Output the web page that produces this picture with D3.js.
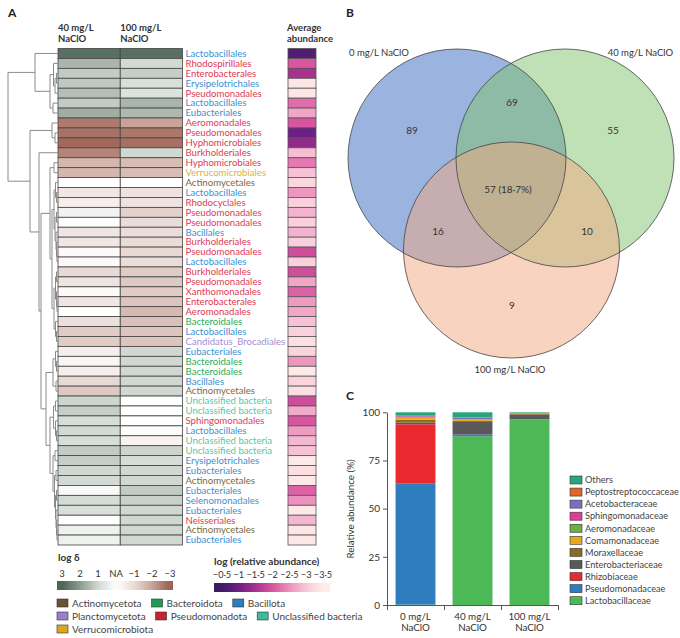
<!DOCTYPE html>
<html><head><meta charset="utf-8">
<script src="https://cdn.jsdelivr.net/npm/d3@7"></script>
<style>
body{margin:0;background:#fff;}
svg{display:block;font-family:Lato,"Open Sans",sans-serif;}
</style></head><body>
<svg id="chart" width="680" height="638"></svg>
<script>
// ---------------- DATA ----------------
const orders = ["Lactobacillales","Rhodospirillales","Enterobacterales","Erysipelotrichales","Pseudomonadales","Lactobacillales","Eubacteriales","Aeromonadales","Pseudomonadales","Hyphomicrobiales","Burkholderiales","Hyphomicrobiales","Verrucomicrobiales","Actinomycetales","Lactobacillales","Rhodocyclales","Pseudomonadales","Pseudomonadales","Bacillales","Burkholderiales","Pseudomonadales","Lactobacillales","Burkholderiales","Pseudomonadales","Xanthomonadales","Enterobacterales","Aeromonadales","Bacteroidales","Lactobacillales","Candidatus_Brocadiales","Eubacteriales","Bacteroidales","Bacteroidales","Bacillales","Actinomycetales","Unclassified bacteria","Unclassified bacteria","Sphingomonadales","Lactobacillales","Unclassified bacteria","Unclassified bacteria","Erysipelotrichales","Eubacteriales","Actinomycetales","Eubacteriales","Selenomonadales","Eubacteriales","Neisseriales","Actinomycetales","Eubacteriales"];
const orderPhylum = ["Bacillota","Pseudomonadota","Pseudomonadota","Bacillota","Pseudomonadota","Bacillota","Bacillota","Pseudomonadota","Pseudomonadota","Pseudomonadota","Pseudomonadota","Pseudomonadota","Verrucomicrobiota","Actinomycetota","Bacillota","Pseudomonadota","Pseudomonadota","Pseudomonadota","Bacillota","Pseudomonadota","Pseudomonadota","Bacillota","Pseudomonadota","Pseudomonadota","Pseudomonadota","Pseudomonadota","Pseudomonadota","Bacteroidota","Bacillota","Planctomycetota","Bacillota","Bacteroidota","Bacteroidota","Bacillota","Actinomycetota","Unclassified bacteria","Unclassified bacteria","Pseudomonadota","Bacillota","Unclassified bacteria","Unclassified bacteria","Bacillota","Bacillota","Actinomycetota","Bacillota","Bacillota","Bacillota","Pseudomonadota","Actinomycetota","Bacillota"];
// log delta, 40 mg/L and 100 mg/L NaClO (0 = NA)
const logDelta40 = [2.8,1.55,1.2,1.25,1.4,1.2,1.7,-2.6,-2.7,-2.85,-2.45,-1.65,-1.65,0,-0.7,-0.5,0.3,0.05,-0.75,-0.7,-0.15,-0.15,-1.05,-0.8,-0.15,-0.75,0,-0.9,-1.3,-1.3,-0.5,-0.25,-0.5,-1.05,-1.35,1.05,1.15,0.85,0.95,0.85,1.2,1.15,1.0,0.95,0.15,0.9,0.8,0,0.35,0.35];
const logDelta100 = [2.8,0.95,1.15,0.8,0.75,1.55,1.5,-2.0,-2.65,-2.75,1.0,-1.55,-1.55,0,-0.8,-0.8,-1.2,-1.0,-0.95,-1.0,-1.05,-0.95,-1.3,-1.35,-1.3,-1.4,-1.6,-1.5,-1.4,-1.4,1.0,1.0,1.0,1.0,1.0,0,0,0,-0.1,-0.35,1.05,0.85,1.0,1.0,1.2,1.1,1.0,1.0,1.0,1.0];
const logAbundance = [-0.7,-2.0,-1.5,-3.4,-3.4,-2.2,-2.7,-2.0,-1.0,-1.3,-2.9,-2.3,-2.95,-3.2,-2.55,-3.1,-2.8,-3.1,-2.8,-3.1,-1.9,-3.1,-1.9,-2.7,-2.1,-2.6,-2.7,-2.95,-3.1,-3.3,-3.15,-2.55,-3.45,-3.15,-3.3,-1.9,-2.75,-2.0,-2.6,-2.85,-2.95,-3.45,-3.3,-3.45,-2.1,-2.5,-3.45,-2.85,-3.4,-3.4];
// dendrogram: [merge height, left, right]; leaves are row numbers
const dendrogram = [10,
  [4.6, 1, [1.6, [0.9, 2, [0.6, [0.3, 3, 4], 5]], [1.0, 6, 7]]],
  [5.6, [1.2, 8, [0.6, 9, 10]],
    [3.8, 11,
      [3.4,
        [1.6, [0.8, 12, 13],
          [1.2,
            [0.8, [0.5, 14, [0.3, 15, 16]], [0.6, [0.3, 17, 18], [0.4, 19, [0.3, 20, [0.2, 21, 22]]]]],
            [0.8, [0.5, [0.3, 23, 24], [0.3, 25, [0.2, 26, 27]]], [0.5, 28, [0.3, 29, 30]]]]],
        [2.4,
          [1.0, [0.5, 31, [0.3, 32, 33]], [0.4, 34, 35]],
          [1.6,
            [0.9, [0.5, 36, 37], [0.5, 38, [0.3, 39, 40]]],
            [1.0, [0.6, 41, 42], [0.7, [0.4, 43, 44], [0.5, [0.3, 45, 46], [0.4, 47, [0.3, 48, [0.2, 49, 50]]]]]]]]]]]];
const conditions = ["40 mg/L NaClO","100 mg/L NaClO"];
const phyla = ["Actinomycetota","Bacteroidota","Bacillota","Planctomycetota","Pseudomonadota","Unclassified bacteria","Verrucomicrobiota"];
const deltaTicks = [3,2,1,0,-1,-2,-3];
const abundanceTicks = [-0.5,-1,-1.5,-2,-2.5,-3,-3.5];

const vennSets = ["0 mg/L NaClO","40 mg/L NaClO","100 mg/L NaClO"];
const vennRegions = ["0 only","40 only","100 only","0∩40","0∩100","40∩100","all"];
const vennCounts = [89,55,9,69,16,10,57];
const vennSharedPct = 18.7;

const groups = ["0 mg/L NaClO","40 mg/L NaClO","100 mg/L NaClO"];
const families = ["Lactobacillaceae","Pseudomonadaceae","Rhizobiaceae","Enterobacteriaceae","Moraxellaceae","Comamonadaceae","Aeromonadaceae","Sphingomonadaceae","Acetobacteraceae","Peptostreptococcaceae","Others"];
const abundance0 = [0.2,63.0,30.6,0.8,1.5,1.0,0.3,0.5,0.2,0.4,1.5];
const abundance40 = [87.6,1.0,0.1,6.3,0.5,0.6,0.2,0.1,0.7,0.2,2.7];
const abundance100 = [96.4,0.1,0.0,2.2,0.4,0.1,0.1,0.1,0.2,0.1,0.3];
const percentTicks = [0,25,50,75,100];

// ---------------- STYLE ----------------
const phylumColor = d3.scaleOrdinal().domain(phyla)
  .range(["#6b5330","#219b52","#2b7fc0","#9a80cc","#c8232f","#3dbc9c","#d9a91c"]);
const labelColor = d3.scaleOrdinal().domain(phyla)
  .range(["#7a6a46","#2eaa5c","#3a91cf","#a690d2","#e03a52","#4ecaa8","#e6b22c"]);
const familyColor = d3.scaleOrdinal().domain(families)
  .range(["#4db856","#2f7dbd","#eb2a30","#595959","#8c6a28","#e8a822","#6ab13f","#e43a98","#7b6fbf","#e0652a","#26a57f"]);
const deltaColor = d3.scaleLinear().domain([3,2,1,0,-1,-2,-3])
  .range(["#4d6456","#8b9b8f","#d0d8d1","#ffffff","#eadcd8","#c9a398","#9a5f50"]).clamp(true);
const abundColor = d3.scaleLinear().domain([-0.5,-1,-1.5,-2,-2.5,-3,-3.5])
  .range(["#3d1a68","#6e1f84","#a8318f","#d8559f","#ec90bd","#f8c8d8","#fdeeea"]).clamp(true);
const fmt = v => (v < 0 ? "\u2212" : "") + String(Math.abs(v)).replace(".", "\u00b7");

const svg = d3.select("#chart");
const defs = svg.append("defs");

// ---------------- PANEL A ----------------
svg.append("text").attr("x",8).attr("y",17).attr("font-size",12).attr("font-weight",700).attr("fill","#222").text("A");

const rowY = d3.scaleBand().domain(d3.range(orders.length)).range([48.5,545]);
const colX = d3.scaleBand().domain(conditions).range([58,182.5]);
const abX = [288,316];
const deltaData = [logDelta40, logDelta100];

// headers
const headers = [{x:colX(conditions[0]), l:["40 mg/L","NaClO"]},{x:colX(conditions[1]), l:["100 mg/L","NaClO"]},{x:abX[0]-1,l:["Average","abundance"]}];
headers.forEach(h=>{
  h.l.forEach((t,i)=>svg.append("text").attr("x",h.x).attr("y",31+i*11).attr("font-size",9.5).attr("font-weight",700).attr("fill","#333").text(t));
});

const gA = svg.append("g");
conditions.forEach((c,ci)=>{
  gA.selectAll(null).data(deltaData[ci]).join("rect")
    .attr("x",colX(c)).attr("y",(d,i)=>rowY(i))
    .attr("width",colX.bandwidth()).attr("height",rowY.bandwidth())
    .attr("fill",d=>deltaColor(d)).attr("stroke","#444").attr("stroke-width",0.8);
});
gA.selectAll(null).data(logAbundance).join("rect")
  .attr("x",abX[0]).attr("y",(d,i)=>rowY(i))
  .attr("width",abX[1]-abX[0]).attr("height",rowY.bandwidth())
  .attr("fill",d=>abundColor(d)).attr("stroke","#555").attr("stroke-width",0.8);
gA.selectAll(null).data(orders).join("text")
  .attr("x",185.5).attr("y",(d,i)=>rowY(i)+rowY.bandwidth()/2)
  .attr("dy","0.35em").attr("font-size",9.6)
  .attr("fill",(d,i)=>labelColor(orderPhylum[i])).text(d=>d);

// dendrogram
const xDend = d3.scaleLinear().domain([0,10]).range([58,8]);
const segs = [];
function layoutTree(node){
  if (typeof node === "number") return {x:xDend(0), y:rowY(node-1)+rowY.bandwidth()/2};
  const [h,a,b] = node;
  const A = layoutTree(a), B = layoutTree(b);
  const x = xDend(h);
  segs.push([x,A.y,x,B.y],[x,A.y,A.x,A.y],[x,B.y,B.x,B.y]);
  return {x, y:(A.y+B.y)/2};
}
layoutTree(dendrogram);
svg.append("g").selectAll("line").data(segs).join("line")
  .attr("x1",d=>d[0]).attr("y1",d=>d[1]).attr("x2",d=>d[2]).attr("y2",d=>d[3])
  .attr("stroke","#8a8a8a").attr("stroke-width",1);

// log delta legend
svg.append("text").attr("x",58).attr("y",561).attr("font-size",10).attr("font-weight",700).attr("fill","#333").text("log \u03b4");
const dScale = d3.scaleLinear().domain([3,-3]).range([62,170]);
svg.append("g").selectAll("text").data(deltaTicks).join("text")
  .attr("x",d=>dScale(d)).attr("y",577).attr("text-anchor","middle").attr("font-size",9.5).attr("fill","#333")
  .text(d=>d===0?"NA":fmt(d));
const gD = defs.append("linearGradient").attr("id","gradD");
d3.range(0,1.0001,0.05).forEach(t=>{
  const x = 57 + t*(173-57);
  gD.append("stop").attr("offset",t).attr("stop-color",deltaColor(dScale.invert(x)));
});
svg.append("rect").attr("x",57).attr("y",581).attr("width",116).attr("height",9).attr("fill","url(#gradD)");

// abundance legend
svg.append("text").attr("x",214).attr("y",565).attr("font-size",10).attr("font-weight",700).attr("fill","#333").text("log (relative abundance)");
const aScale = d3.scaleLinear().domain([-0.5,-3.5]).range([222,323]);
svg.append("g").selectAll("text").data(abundanceTicks).join("text")
  .attr("x",d=>aScale(d)).attr("y",578).attr("text-anchor","middle").attr("font-size",9.2).attr("fill","#333")
  .text(d=>fmt(d));
const gAb = defs.append("linearGradient").attr("id","gradA");
d3.range(0,1.0001,0.05).forEach(t=>{
  const x = 214 + t*(330-214);
  gAb.append("stop").attr("offset",t).attr("stop-color",abundColor(aScale.invert(x)));
});
svg.append("rect").attr("x",214).attr("y",583).attr("width",116).attr("height",9).attr("fill","url(#gradA)");

// phylum legend
const legRows = [[0,1,2],[3,4,5],[6]];
legRows.forEach((r,ri)=>{
  let x = 57;
  const y = 603 + ri*13;
  r.forEach(pi=>{
    svg.append("rect").attr("x",x).attr("y",y-4).attr("width",11).attr("height",8)
      .attr("fill",phylumColor(phyla[pi])).attr("stroke","#333").attr("stroke-width",0.6);
    const t = svg.append("text").attr("x",x+15).attr("y",y).attr("dy","0.35em").attr("font-size",10).attr("fill","#444").text(phyla[pi]);
    x = x + 15 + t.node().getComputedTextLength() + 10;
  });
});

// ---------------- PANEL B ----------------
svg.append("text").attr("x",346).attr("y",17).attr("font-size",12).attr("font-weight",700).attr("fill","#222").text("B");
const circles = [
  {cx:457, cy:158, r:109, fill:"#3769bf"},
  {cx:565, cy:158, r:109, fill:"#81c16b"},
  {cx:511.5, cy:250, r:108, fill:"#f1a781"}
];
svg.append("g").selectAll("circle").data(circles).join("circle")
  .attr("cx",d=>d.cx).attr("cy",d=>d.cy).attr("r",d=>d.r).attr("fill",d=>d.fill).attr("fill-opacity",0.5);
svg.append("g").selectAll("circle").data(circles).join("circle")
  .attr("cx",d=>d.cx).attr("cy",d=>d.cy).attr("r",d=>d.r).attr("fill","none").attr("stroke","#444").attr("stroke-width",0.8);
const regionPos = [[412,130],[613,130],[512,305],[512,102],[438,231],[587,231],[508,189]];
svg.append("g").selectAll("text").data(vennCounts).join("text")
  .attr("x",(d,i)=>regionPos[i][0]).attr("y",(d,i)=>regionPos[i][1]).attr("dy","0.35em")
  .attr("text-anchor","middle").attr("font-size",10).attr("fill","#333")
  .text((d,i)=> vennRegions[i]==="all" ? `${d} (${String(vennSharedPct).replace(".","\u00b7")}%)` : d);
svg.append("text").attr("x",349).attr("y",53).attr("dy","0.35em").attr("font-size",9.5).attr("fill","#333").text(vennSets[0]);
svg.append("text").attr("x",673).attr("y",53).attr("dy","0.35em").attr("text-anchor","end").attr("font-size",9.5).attr("fill","#333").text(vennSets[1]);
svg.append("text").attr("x",510).attr("y",370).attr("dy","0.35em").attr("text-anchor","middle").attr("font-size",9.5).attr("fill","#333").text(vennSets[2]);

// ---------------- PANEL C ----------------
svg.append("text").attr("x",346).attr("y",400).attr("font-size",12).attr("font-weight",700).attr("fill","#222").text("C");
const xC = d3.scaleBand().domain(groups).range([387,558]).paddingInner(0.3).paddingOuter(0.15);
const yC = d3.scaleLinear().domain([0,100]).range([605,412.3]);
const tableRows = [abundance0,abundance40,abundance100].map((arr,i)=>{
  const o = {group:groups[i]}; families.forEach((f,j)=>o[f]=arr[j]); return o;
});
const series = d3.stack().keys(families)(tableRows);
svg.append("g").selectAll("g").data(series).join("g").attr("fill",d=>familyColor(d.key))
  .selectAll("rect").data(d=>d).join("rect")
  .attr("x",d=>xC(d.data.group)).attr("width",xC.bandwidth())
  .attr("y",d=>yC(d[1])).attr("height",d=>Math.max(0,yC(d[0])-yC(d[1])));

const yAxis = svg.append("g").attr("transform","translate(387,0)")
  .call(d3.axisLeft(yC).tickValues(percentTicks).tickSize(4).tickSizeOuter(0));
const xEdge = d3.scaleLinear().domain([0,groups.length]).range([387,558]);
const xAxis = svg.append("g").attr("transform","translate(0,605)")
  .call(d3.axisBottom(xEdge).tickValues(d3.range(groups.length+1)).tickFormat("").tickSize(5).tickSizeOuter(0));
[yAxis,xAxis].forEach(g=>{
  g.selectAll("path,line").attr("stroke","#555");
  g.selectAll("text").attr("font-size",10).attr("fill","#333").attr("font-family","Lato,sans-serif");
});
svg.append("text").attr("transform","translate(354,509) rotate(-90)").attr("text-anchor","middle")
  .attr("font-size",9.8).attr("fill","#333").text("Relative abundance (%)");
groups.forEach(g=>{
  const parts = g.split(" NaClO");
  const cx = xC(g)+xC.bandwidth()/2;
  svg.append("text").attr("x",cx).attr("y",620).attr("text-anchor","middle").attr("font-size",9.8).attr("fill","#333").text(parts[0]);
  svg.append("text").attr("x",cx).attr("y",631).attr("text-anchor","middle").attr("font-size",9.8).attr("fill","#333").text("NaClO");
});
// family legend
const famLegend = families.slice().reverse();
const gL = svg.append("g");
famLegend.forEach((f,i)=>{
  const y = 480 + i*12.07;
  gL.append("rect").attr("x",570).attr("y",y-4).attr("width",12).attr("height",8)
    .attr("fill",familyColor(f)).attr("stroke","#333").attr("stroke-width",0.6);
  gL.append("text").attr("x",585).attr("y",y).attr("dy","0.35em").attr("font-size",9.2).attr("fill","#444").text(f);
});
</script>
</body></html>
